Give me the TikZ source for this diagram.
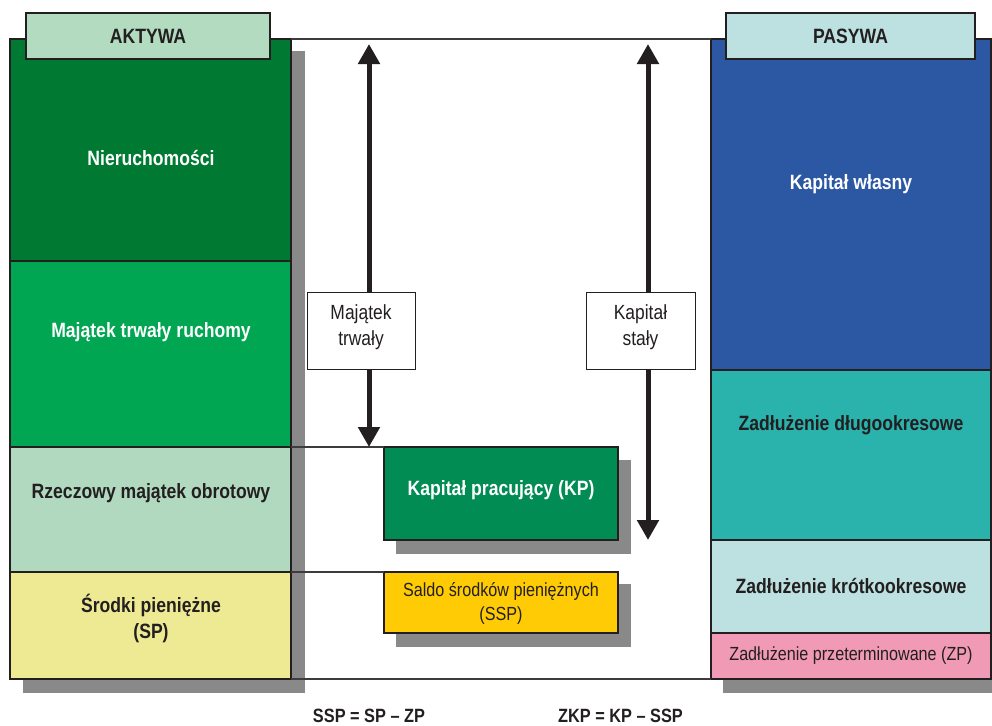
\documentclass[tikz,border=0pt]{standalone}
\usepackage{fontspec}
\newfontfamily\cond{Liberation Sans}[FakeStretch=0.85]
\usetikzlibrary{arrows.meta,backgrounds}

\definecolor{ink}{RGB}{35,31,32}
\definecolor{rule}{RGB}{60,60,60}
\definecolor{shade}{RGB}{137,137,137}
\definecolor{gDark}{RGB}{0,122,50}
\definecolor{gMid}{RGB}{0,166,81}
\definecolor{gLight}{RGB}{177,217,191}
\definecolor{cashY}{RGB}{238,234,148}
\definecolor{hdrL}{RGB}{178,219,191}
\definecolor{hdrR}{RGB}{189,225,224}
\definecolor{eqBlue}{RGB}{43,87,163}
\definecolor{ltTeal}{RGB}{42,178,172}
\definecolor{stCyan}{RGB}{189,225,224}
\definecolor{odPink}{RGB}{240,154,182}
\definecolor{wcGreen}{RGB}{0,140,83}
\definecolor{ncYellow}{RGB}{255,203,5}

\tikzset{
  blk/.style={draw=ink, line width=1.3pt, inner sep=0pt, outer sep=0pt},
  shd/.style={fill=shade, inner sep=0pt, outer sep=0pt},
  lbl/.style={blk, fill=white, line width=1pt},
  bt/.style={font=\cond\bfseries\fontsize{20.7}{26}\selectfont, align=center, text=ink, inner sep=0pt},
  wt/.style={bt, text=white},
  rt/.style={font=\cond\fontsize{20.5}{26}\selectfont, align=center, text=ink, inner sep=0pt},
  st/.style={font=\cond\fontsize{19}{24}\selectfont, align=center, text=ink, inner sep=0pt},
  hline/.style={draw=rule, line width=1.1pt},
  span/.style={draw=ink, line width=5pt, -{Triangle[width=21pt,length=20pt]}}
}

\begin{document}
\begin{tikzpicture}[x=1pt,y=-1pt]
\useasboundingbox[fill=white] (0,0) rectangle (992,725);

% drop shadows
\node[shd, minimum width=282pt, minimum height=642pt] (lsh) at (164,372) {};
\node[shd, minimum width=282pt, minimum height=642pt] (rsh) at (864,372) {};
\node[shd, minimum width=235pt, minimum height=94pt] (kpsh) at (513.5,507) {};
\node[shd, minimum width=235pt, minimum height=63pt] (sspsh) at (513.5,615.5) {};

% assets column
\node[blk, fill=gDark, minimum width=281pt, minimum height=222pt] (nier) at (150.5,150) {};
\node[blk, fill=gMid, minimum width=281pt, minimum height=186pt] (ruch) at (150.5,354) {};
\node[blk, fill=gLight, minimum width=281pt, minimum height=125pt] (rzecz) at (150.5,509.5) {};
\node[blk, fill=cashY, minimum width=281pt, minimum height=107pt] (srodki) at (150.5,625.5) {};

% liabilities column
\node[blk, fill=eqBlue, minimum width=280pt, minimum height=331pt] (wlasny) at (851,204.5) {};
\node[blk, fill=ltTeal, minimum width=280pt, minimum height=170pt] (dlugo) at (851,455) {};
\node[blk, fill=stCyan, minimum width=280pt, minimum height=93pt] (krotko) at (851,586.5) {};
\node[blk, fill=odPink, minimum width=280pt, minimum height=46pt] (zp) at (851,656) {};

% column headers
\node[blk, fill=hdrL, minimum width=244pt, minimum height=46pt] (akt) at (148,36) {};
\node[blk, fill=hdrR, minimum width=249pt, minimum height=46pt] (pas) at (850.5,36) {};

% middle boxes
\node[blk, fill=wcGreen, minimum width=234pt, minimum height=93pt] (kp) at (501,493.5) {};
\node[blk, fill=ncYellow, minimum width=234pt, minimum height=61pt] (ssp) at (501,602.5) {};

% rules running behind the middle boxes
\begin{scope}[on background layer]
  \draw[hline] (kp.south east) -- (dlugo.south west);
  \draw[hline] (ssp.south east) -- (krotko.south west);
\end{scope}
\draw[hline] (nier.north east) -- (wlasny.north west);
\draw[hline] (srodki.south east) -- (zp.south west);
\draw[hline] (rzecz.north east) -- (kp.north west);
\draw[hline] (srodki.north east) -- (ssp.north west);

% span labels and arrows
\node[lbl, minimum width=108pt, minimum height=77pt] (mt) at (361,330.5) {};
\node[lbl, minimum width=109pt, minimum height=77pt] (ks) at (640.5,330.5) {};
\coordinate (mtTop) at (369,44);
\coordinate (mtBot) at (369,447);
\coordinate (ksTop) at (648,44);
\coordinate (ksBot) at (648,540);
\draw[span] (mtTop |- mt.north) -- (mtTop);
\draw[span] (mtBot |- mt.south) -- (mtBot);
\draw[span] (ksTop |- ks.north) -- (ksTop);
\draw[span] (ksBot |- ks.south) -- (ksBot);

% texts
\node[bt] (tAkt) at (148,36) {AKTYWA};
\node[bt] (tPas) at (850.5,36) {PASYWA};
\node[wt] (tNier) at (151,158) {Nieruchomości};
\node[wt] (tRuch) at (151,332) {Majątek trwały ruchomy};
\node[bt] (tRzecz) at (151,493) {Rzeczowy majątek obrotowy};
\node[bt] (tSrodki) at (151,618) {Środki pieniężne\\(SP)};
\node[wt] (tWlasny) at (851,184) {Kapitał własny};
\node[bt] (tDlugo) at (851,425) {Zadłużenie długookresowe};
\node[bt] (tKrotko) at (851,586) {Zadłużenie krótkookresowe};
\node[st] (tZp) at (851,656) {Zadłużenie przeterminowane (ZP)};
\node[wt] (tKp) at (501,490) {Kapitał pracujący (KP)};
\node[st] (tSsp) at (501,603) {Saldo środków pieniężnych\\(SSP)};
\node[rt] (tMt) at (361,327) {Majątek\\trwały};
\node[rt] (tKs) at (640.5,327) {Kapitał\\stały};
\node[bt, font=\cond\bfseries\fontsize{19.2}{24}\selectfont] (f1) at (369,716) {SSP = SP – ZP};
\node[bt, font=\cond\bfseries\fontsize{19.2}{24}\selectfont] (f2) at (620.5,716) {ZKP = KP – SSP};
\end{tikzpicture}
\end{document}
